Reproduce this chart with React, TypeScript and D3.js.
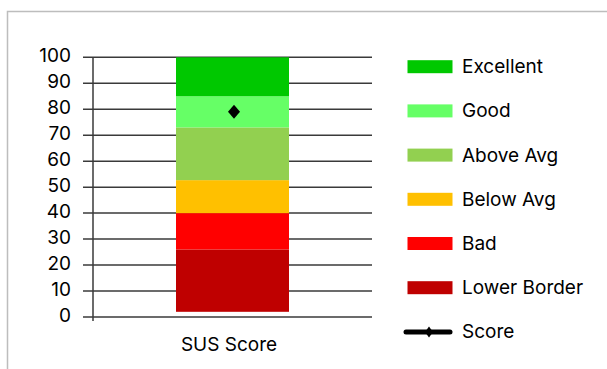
import React from "react";
import * as d3 from "d3";

// Chart data
const categories = ["SUS Score"];
const bandNames = ["Lower Border", "Bad", "Below Avg", "Above Avg", "Good", "Excellent"];
const bandLower = [2, 26, 40, 52.7, 73, 85];
const bandUpper = [26, 40, 52.7, 73, 85, 100];
const bandColors = ["#bf0000", "#ff0000", "#ffc000", "#92d050", "#66ff66", "#00c800"];
const scoreValues = [79];
const scoreLabel = "Score";

const W = 607;
const H = 369;
const FONT = "Inter, 'Noto Sans', sans-serif";
const FS = 19;

export default function App() {
  const y = d3.scaleLinear().domain([0, 100]).range([317, 57.3]);
  const x = d3
    .scaleBand<string>()
    .domain(categories)
    .range([93, 372])
    .paddingInner(0)
    .paddingOuter(0.7345);

  const ticks = y.ticks(10);
  const [x0, x1] = x.range();

  const diamond = (cx: number, cy: number, w: number, h: number) =>
    `M${cx},${cy - h / 2}L${cx + w / 2},${cy}L${cx},${cy + h / 2}L${cx - w / 2},${cy}Z`;

  // Legend: bands top to bottom (highest first), then the score marker
  const legendOrder = d3.range(bandNames.length).reverse();
  const legendY = (i: number) => 66.7 + i * 44.2;

  return (
    <svg
      width={W}
      height={H}
      style={{ position: "absolute", left: 0, top: 0, background: "#fff" }}
      fontFamily={FONT}
    >
      {/* frame */}
      <path d={`M7.5,${H}V11.5H${W}`} fill="none" stroke="#bdbdbd" strokeWidth={1.5} />

      {/* gridlines with outward ticks */}
      {ticks.map((t) => (
        <line
          key={`g${t}`}
          x1={x0 - 10}
          x2={x1}
          y1={y(t)}
          y2={y(t)}
          stroke="#3a3a3a"
          strokeWidth={1.5}
        />
      ))}
      {/* value axis */}
      <line x1={x0} x2={x0} y1={y(100)} y2={y(0) + 4} stroke="#3a3a3a" strokeWidth={1.5} />

      {/* tick labels */}
      {ticks.map((t) => (
        <text
          key={`t${t}`}
          x={71}
          y={y(t) + 5}
          textAnchor="end"
          fontSize={FS}
          fill="#000"
        >
          {t}
        </text>
      ))}

      {/* stacked bands */}
      {categories.map((c) =>
        bandNames.map((n, i) => (
          <rect
            key={`${c}-${n}`}
            x={x(c)!}
            width={x.bandwidth()}
            y={y(bandUpper[i])}
            height={y(bandLower[i]) - y(bandUpper[i])}
            fill={bandColors[i]}
          />
        ))
      )}

      {/* score markers */}
      {categories.map((c, i) => (
        <path
          key={`s${c}`}
          d={diamond(x(c)! + x.bandwidth() / 2 + 1.5, y(scoreValues[i]), 12, 14)}
          fill="#000"
        />
      ))}

      {/* category labels */}
      {categories.map((c) => (
        <text
          key={`c${c}`}
          x={x(c)! + x.bandwidth() / 2 - 3.5}
          y={351}
          textAnchor="middle"
          fontSize={FS}
          fill="#000"
        >
          {c}
        </text>
      ))}

      {/* legend */}
      {legendOrder.map((bi, i) => (
        <g key={`l${bi}`}>
          <rect x={407.5} y={legendY(i) - 6.5} width={45} height={13} fill={bandColors[bi]} />
          <text x={462} y={legendY(i) + 6.5} fontSize={FS} fill="#000">
            {bandNames[bi]}
          </text>
        </g>
      ))}
      <g>
        <line
          x1={406}
          x2={450}
          y1={legendY(6)}
          y2={legendY(6)}
          stroke="#000"
          strokeWidth={5}
          strokeLinecap="round"
        />
        <path d={diamond(429, legendY(6), 8, 11)} fill="#000" />
        <text x={462} y={legendY(6) + 6.5} fontSize={FS} fill="#000">
          {scoreLabel}
        </text>
      </g>
    </svg>
  );
}
